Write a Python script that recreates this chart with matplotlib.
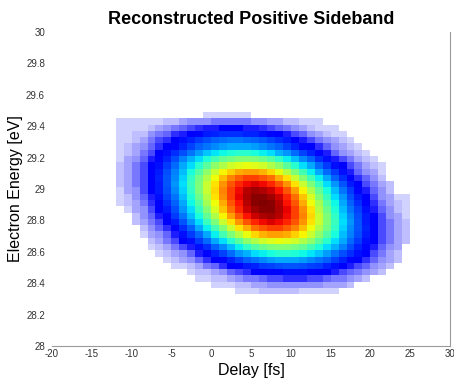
import numpy as np
import matplotlib
matplotlib.use("Agg")
import matplotlib.pyplot as plt
from matplotlib.colors import ListedColormap

plt.rcParams['font.family'] = ['Liberation Sans', 'DejaVu Sans']

# cell edges of the reconstructed map
delay_edges = np.arange(-12, 26, 1)              # fs, 37 columns
energy_edges = np.arange(28.33, 29.50, 0.04)     # eV, 29 rows

# sideband intensity [% of max], rows from low to high energy
intensity = [
    [0,0,0,0,0,0,0,0,0,0,0,0,1,1,1,2,2,2,3,3,3,3,3,2,2,2,2,2,1,1,1,0,0,0,0,0,0],
    [0,0,0,0,0,0,0,0,0,1,1,1,2,2,2,3,3,4,4,5,5,5,5,5,5,5,4,4,4,3,1,1,1,1,1,1,1],
    [0,0,0,0,0,0,0,1,1,1,2,2,3,3,4,5,6,6,7,8,8,9,9,9,8,8,7,6,6,5,4,3,1,1,1,1,1],
    [0,0,0,0,0,0,1,1,1,2,3,3,4,5,7,8,9,11,12,13,13,14,14,14,13,12,11,10,8,7,6,5,4,3,1,1,1],
    [0,0,0,0,1,1,1,2,2,3,4,6,7,9,11,13,15,16,18,19,20,21,21,20,19,18,16,14,12,10,8,7,5,4,3,1,1],
    [0,0,0,1,1,1,2,3,4,5,7,9,11,13,16,19,22,24,26,28,29,29,29,28,26,24,22,19,16,13,11,9,7,5,4,3,1],
    [0,0,1,1,1,2,3,4,5,7,10,13,16,19,23,27,30,34,36,38,40,40,39,37,35,32,28,24,20,17,14,11,8,6,4,3,1],
    [0,1,1,1,2,3,4,6,8,10,14,17,22,26,31,36,41,45,48,50,51,51,49,47,43,39,34,30,25,20,16,13,10,7,5,4,1],
    [0,1,1,1,3,4,6,8,11,14,18,23,29,34,40,46,52,56,60,62,63,62,60,56,52,46,40,34,29,23,18,14,11,8,6,4,3],
    [1,1,1,2,4,5,7,10,14,18,23,29,36,43,50,57,63,68,72,74,74,73,69,65,59,52,45,38,31,25,20,15,11,8,6,4,3],
    [1,1,1,3,5,7,9,13,17,22,29,36,43,51,59,67,73,79,82,84,84,81,77,71,64,56,49,41,33,26,21,16,12,8,6,4,3],
    [1,1,3,4,6,8,11,15,21,27,34,42,50,59,67,75,82,87,90,92,90,87,82,75,67,59,50,42,34,27,21,15,11,8,6,4,3],
    [1,1,3,5,7,10,13,18,24,31,38,47,56,65,74,82,89,93,96,97,95,90,84,77,68,59,50,41,33,26,20,15,11,8,5,4,2],
    [1,2,4,5,8,11,15,20,27,34,42,51,61,70,79,87,93,97,99,99,96,91,84,76,67,57,48,39,31,24,19,14,10,7,5,3,2],
    [2,3,4,6,9,12,17,22,29,37,45,55,64,73,82,89,95,99,100,99,95,89,82,73,64,55,45,37,29,22,17,12,9,6,4,3,2],
    [2,3,5,7,10,14,19,24,31,39,48,57,67,76,84,91,96,99,99,97,93,87,79,70,61,51,42,34,27,20,15,11,8,5,4,2,2],
    [2,4,5,8,11,15,20,26,33,41,50,59,68,77,84,90,95,97,96,93,89,82,74,65,56,47,38,31,24,18,13,10,7,5,3,1,1],
    [3,4,6,8,11,15,21,27,34,42,50,59,67,75,82,87,90,92,90,87,82,75,67,59,50,42,34,27,21,15,11,8,6,4,3,1,1],
    [3,4,6,8,12,16,21,26,33,41,49,56,64,71,77,81,84,84,82,79,73,67,59,51,43,36,29,22,17,13,9,7,5,3,1,1,1],
    [3,4,6,8,11,15,20,25,31,38,45,52,59,65,69,73,74,74,72,68,63,57,50,43,36,29,23,18,14,10,7,5,4,2,1,1,1],
    [3,4,6,8,11,14,18,23,29,34,40,46,52,56,60,62,63,62,60,56,52,46,40,34,29,23,18,14,11,8,6,4,3,2,1,1,0],
    [2,4,5,7,10,13,16,20,25,30,34,39,43,47,49,51,51,50,48,45,41,36,31,26,22,17,14,10,8,6,4,3,2,1,1,1,0],
    [2,3,4,6,8,11,14,17,20,24,28,32,35,37,39,40,40,38,36,34,30,27,23,19,16,13,10,7,5,4,3,2,1,1,1,0,0],
    [2,3,4,5,7,9,11,13,16,19,22,24,26,28,29,29,29,28,26,24,22,19,16,13,11,9,7,5,4,3,2,1,1,1,0,0,0],
    [2,2,3,4,6,8,9,12,14,16,18,20,22,23,24,24,23,22,21,19,17,15,12,10,8,6,5,4,3,2,1,1,1,0,0,0,0],
    [2,2,3,3,5,6,7,9,10,12,13,15,16,17,17,17,16,16,14,13,11,10,8,7,5,4,3,2,2,1,1,1,0,0,0,0,0],
    [2,2,2,2,3,4,5,6,7,8,9,10,10,11,11,11,10,10,9,8,7,6,5,4,3,2,2,2,1,1,0,0,0,0,0,0,0],
    [2,2,2,2,2,2,3,3,4,5,5,5,6,6,6,6,6,5,5,4,4,3,3,2,2,2,1,1,0,0,0,0,0,0,0,0,0],
    [0,0,0,0,1,1,1,1,1,1,1,2,2,2,2,2,2,1,1,1,1,1,1,1,0,0,0,0,0,0,0,0,0,0,0,0,0],
]

xticks = [-20, -15, -10, -5, 0, 5, 10, 15, 20, 25, 30]
yticks = [28, 28.2, 28.4, 28.6, 28.8, 29, 29.2, 29.4, 29.6, 29.8, 30]
ytick_labels = ['28', '28.2', '28.4', '28.6', '28.8', '29', '29.2', '29.4', '29.6', '29.8', '30']

# jet, but the dark-blue bottom fades out to white
x = np.linspace(0, 1, 256)
cols = plt.get_cmap('jet')(x)
low = x < 0.11
fade = (x[low] / 0.11)[:, None]
cols[low, :3] = (1 - fade) * np.array([1.0, 1.0, 1.0]) + fade * np.array([0.0, 0.0, 1.0])
cmap = ListedColormap(cols)

Z = np.ma.masked_less(np.array(intensity, dtype=float), 2)

fig = plt.figure(figsize=(4.54, 3.82), dpi=100)
ax = fig.add_axes([52/454, 36/382, 398/454, 314/382])
ax.pcolormesh(delay_edges, energy_edges, Z, cmap=cmap, vmin=0, vmax=100, shading='flat')

ax.set_xlim(-20, 30)
ax.set_ylim(28, 30)
ax.set_xticks(xticks)
ax.set_xticklabels([str(t) for t in xticks])
ax.set_yticks(yticks)
ax.set_yticklabels(ytick_labels)
ax.tick_params(length=0, labelsize=7, labelcolor='#333333')
ax.tick_params(axis='x', pad=2)
ax.tick_params(axis='y', pad=5)

for side in ['left', 'top']:
    ax.spines[side].set_visible(False)
for side in ['bottom', 'right']:
    ax.spines[side].set_color('#9a9a9a')
    ax.spines[side].set_linewidth(0.8)

ax.set_xlabel('Delay [fs]', fontsize=11.5, labelpad=3)
ax.set_ylabel('Electron Energy [eV]', fontsize=11.5, labelpad=2)
ax.set_title('Reconstructed Positive Sideband', fontsize=13, fontweight='bold', pad=6)

fig.savefig('out.png', dpi=100)
